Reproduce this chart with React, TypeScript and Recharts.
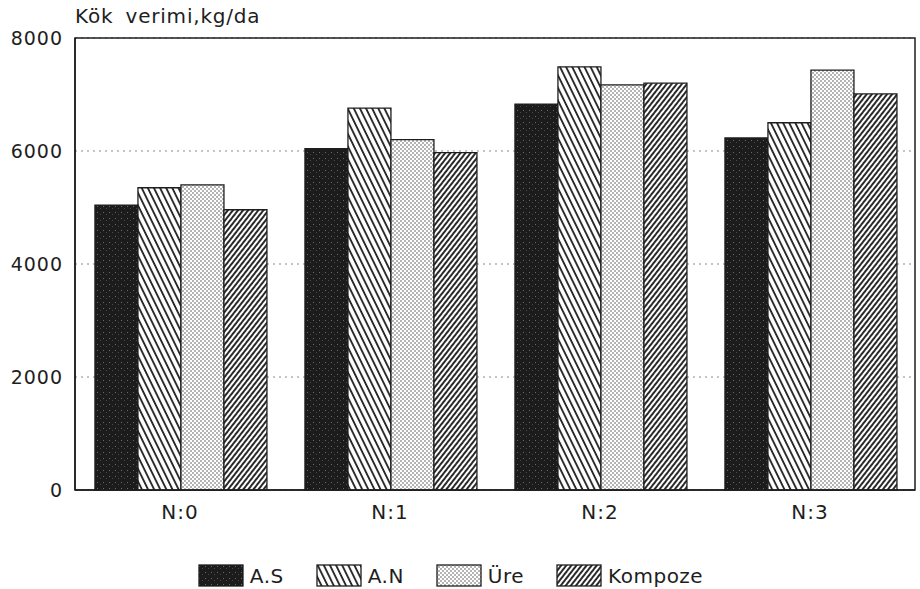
import React from "react";
import {
  BarChart, Bar, XAxis, YAxis, CartesianGrid, Legend, ReferenceArea,
} from "recharts";

const categories = ["N:0", "N:1", "N:2", "N:3"];
const asValues = [5040, 6040, 6830, 6230];
const anValues = [5350, 6760, 7490, 6500];
const ureValues = [5400, 6200, 7170, 7430];
const kompozeValues = [4960, 5970, 7200, 7010];
const seriesNames = ["A.S", "A.N", "Üre", "Kompoze"];
const yTicks = [0, 2000, 4000, 6000, 8000];

const FONT = "'DejaVu Sans', sans-serif";
const INK = "#1e1e1e";

const data = categories.map((name, i) => ({
  name,
  as: asValues[i],
  an: anValues[i],
  ure: ureValues[i],
  kompoze: kompozeValues[i],
}));

const seriesKeys = ["as", "an", "ure", "kompoze"];
const fills = ["url(#pat-as)", "url(#pat-an)", "url(#pat-ure)", "url(#pat-komp)"];

// patterns used by both the bars and the legend swatches
function Patterns({ prefix }: { prefix: string }) {
  return (
    <defs>
      <pattern id={`${prefix}as`} width="6" height="6" patternUnits="userSpaceOnUse">
        <rect width="6" height="6" fill="#1c1c1c" />
        <rect x="1" y="2" width="1" height="1" fill="#6a6a6a" />
        <rect x="4" y="4" width="1" height="1" fill="#4a4a4a" />
      </pattern>
      <pattern id={`${prefix}an`} width="5.5" height="5" patternUnits="userSpaceOnUse" patternTransform="rotate(-26)">
        <rect width="5.5" height="5" fill="#ffffff" />
        <line x1="1" y1="0" x2="1" y2="5" stroke={INK} strokeWidth="1.8" />
      </pattern>
      <pattern id={`${prefix}ure`} width="4" height="4" patternUnits="userSpaceOnUse">
        <rect width="4" height="4" fill="#ffffff" />
        <circle cx="1" cy="1" r="0.75" fill="#444" />
        <circle cx="3" cy="3" r="0.75" fill="#444" />
      </pattern>
      <pattern id={`${prefix}komp`} width="4" height="4" patternUnits="userSpaceOnUse" patternTransform="rotate(38)">
        <rect width="4" height="4" fill="#ffffff" />
        <line x1="1" y1="0" x2="1" y2="4" stroke={INK} strokeWidth="1.9" />
      </pattern>
    </defs>
  );
}

function CustomLegend() {
  const legendFills = ["url(#lg-as)", "url(#lg-an)", "url(#lg-ure)", "url(#lg-komp)"];
  return (
    <div style={{ height: 44, display: "flex", justifyContent: "center", paddingTop: 17, boxSizing: "border-box", paddingRight: 14 }}>
      {seriesNames.map((name, i) => (
        <div key={name} style={{ display: "flex", alignItems: "center", marginRight: i < 3 ? 32 : 0 }}>
          <svg width={46} height={23}>
            <Patterns prefix="lg-" />
            <rect x={1} y={1} width={44} height={21} fill={legendFills[i]} stroke={INK} strokeWidth={1.3} />
          </svg>
          <span style={{ fontFamily: FONT, fontSize: 20, color: INK, marginLeft: 6, letterSpacing: 0.5 }}>{name}</span>
        </div>
      ))}
    </div>
  );
}

export default function App() {
  return (
    <div style={{ position: "absolute", left: 0, top: 0, width: 920, height: 589, background: "#fff" }}>
      <div style={{ position: "absolute", left: 75, top: 4, fontFamily: FONT, fontSize: 20, lineHeight: "24px", color: INK, letterSpacing: 0.8, wordSpacing: 5 }}>
        Kök verimi,kg/da
      </div>
      <BarChart
        width={920}
        height={589}
        data={data}
        margin={{ top: 38, right: 5, left: 0, bottom: 0 }}
        barCategoryGap="9.5%"
        barGap={0}
      >
        <Patterns prefix="pat-" />
        <CartesianGrid vertical={false} stroke="#888" strokeDasharray="2 4" />
        <XAxis
          dataKey="name"
          height={55}
          axisLine={{ stroke: INK, strokeWidth: 1.5 }}
          tickLine={false}
          tickMargin={9}
          tick={{ fontFamily: FONT, fontSize: 20, fill: INK, letterSpacing: 1 }}
        />
        <YAxis
          width={75}
          domain={[0, 8000]}
          ticks={yTicks}
          axisLine={{ stroke: INK, strokeWidth: 1.5 }}
          tickLine={false}
          tickMargin={6}
          tick={{ fontFamily: FONT, fontSize: 19, fill: INK, letterSpacing: 1 }}
        />
        {seriesKeys.map((key, i) => (
          <Bar
            key={key}
            dataKey={key}
            name={seriesNames[i]}
            fill={fills[i]}
            stroke={INK}
            strokeWidth={1.3}
            isAnimationActive={false}
          />
        ))}
        <ReferenceArea y1={0} y2={8000} fill="none" fillOpacity={0} stroke={INK} strokeWidth={1.5} />
        <Legend verticalAlign="bottom" content={() => <CustomLegend />} />
      </BarChart>
    </div>
  );
}
